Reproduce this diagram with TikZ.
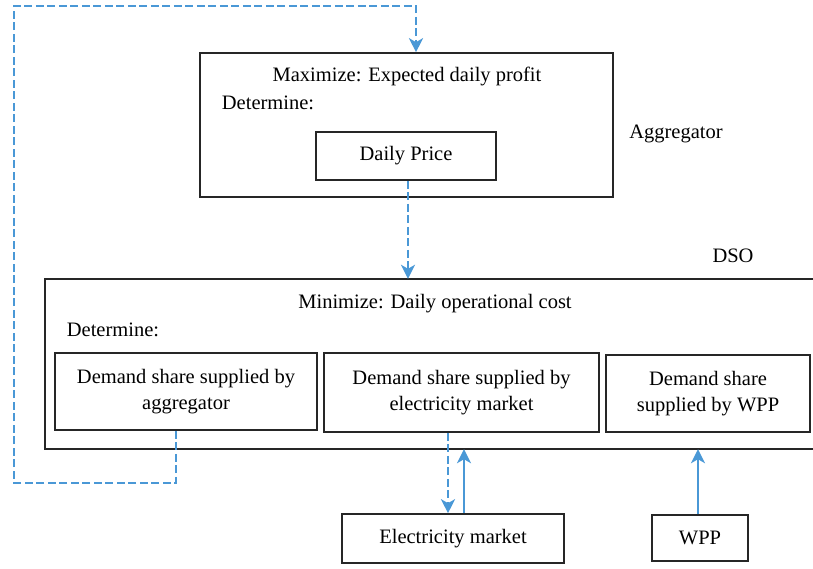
\documentclass[tikz,border=0pt]{standalone}
\usepackage{fontspec}
\setmainfont{Liberation Serif}
\usetikzlibrary{arrows.meta}
\definecolor{lblue}{RGB}{74,152,214}
\begin{document}
\begin{tikzpicture}[x=1pt,y=-1pt,
  box/.style={draw=black!85, line width=1.6pt, inner sep=0pt, align=center, font=\fontsize{20.5}{26}\selectfont},
  lbl/.style={inner sep=0pt, yshift=-1.5pt, font=\fontsize{20.5}{26}\selectfont},
  flow/.style={draw=lblue, line width=2.8pt, -{Stealth[length=14pt,width=14pt,inset=4pt]}},
  dflow/.style={flow, dash pattern=on 8pt off 3.5pt}]
\useasboundingbox (0,0) rectangle (813,569);
% boxes
\node[box, minimum width=413pt, minimum height=144pt] (agg) at (406.5,125) {};
\node[box, minimum width=180pt, minimum height=48pt] (dp) at (406,156) {\raisebox{-1.5pt}{Daily Price}};
\node[inner sep=0pt, minimum width=768pt, minimum height=170pt] (dso) at (429,364) {};
\draw[draw=black!85, line width=1.6pt] (dso.north east) -- (dso.north west) -- (dso.south west) -- (dso.south east);
\node[box, minimum width=262pt, minimum height=77pt] (b1) at (186,391.5) {Demand share supplied by\\aggregator};
\node[box, minimum width=275pt, minimum height=79pt] (b2) at (461.5,392.5) {Demand share supplied by\\electricity market};
\node[box, minimum width=204pt, minimum height=77pt] (b3) at (708,393.5) {Demand share\\supplied by WPP};
\node[box, minimum width=222pt, minimum height=49pt] (em) at (453,538.5) {\raisebox{-1.5pt}{Electricity market}};
\node[box, minimum width=96pt, minimum height=46pt] (wpp) at (700,538) {\raisebox{-1.5pt}{WPP}};
% labels
\node[lbl] (t1) at (407,75) {Maximize: Expected daily profit};
\node[lbl] (det1) at (268,101) {Determine:};
\node[lbl] (aggl) at (676,132) {Aggregator};
\node[lbl] (dsol) at (733,254) {DSO};
\node[lbl] (t2) at (435,302) {Minimize: Daily operational cost};
\node[lbl] (det2) at (113,328) {Determine:};
% connectors
\draw[dflow] (dp.south -| 408,0) -- (408,0 |- dso.north);
\coordinate (lp1) at (14,483);
\coordinate (lp2) at (14,6);
\draw[dflow] ([xshift=-10pt]b1.south) |- (lp1) -- (lp2) -| ([xshift=9.5pt]agg.north);
\draw[dflow] ([xshift=-13.5pt]b2.south) -- ([xshift=-5pt]em.north);
\draw[flow] ([xshift=11pt]em.north) -- ([xshift=11pt]em.north |- dso.south);
\draw[flow] ([xshift=-2pt]wpp.north) -- ([xshift=-2pt]wpp.north |- dso.south);
\end{tikzpicture}
\end{document}
